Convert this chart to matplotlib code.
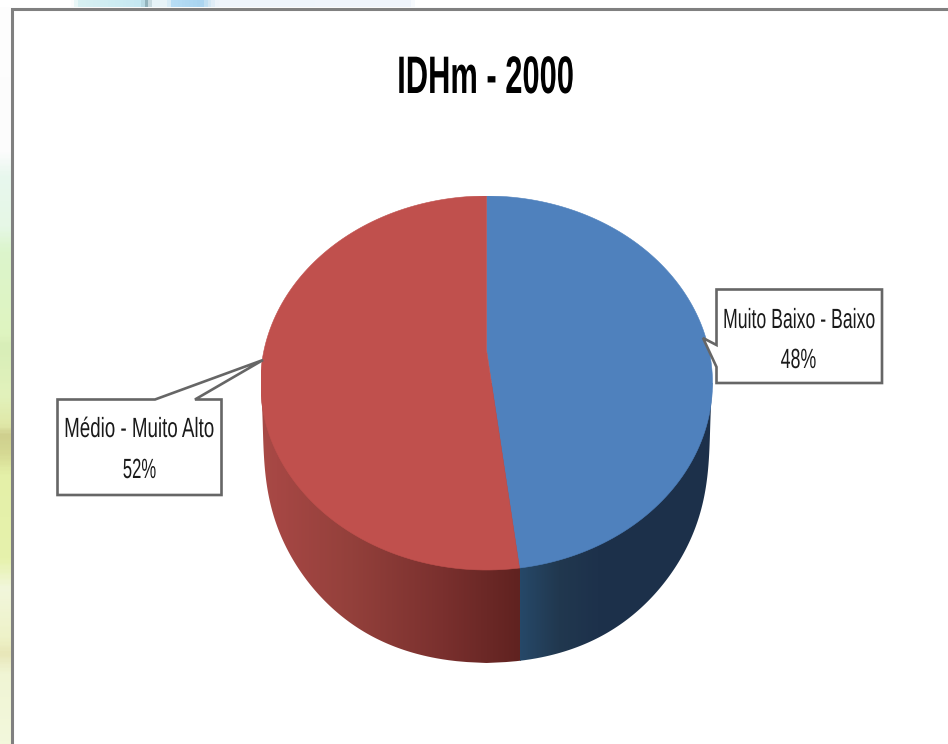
import numpy as np
import matplotlib
matplotlib.use("Agg")
import matplotlib.pyplot as plt
from matplotlib.patches import Polygon
from matplotlib.patheffects import AbstractPathEffect
from matplotlib.transforms import Affine2D
from matplotlib.colors import LinearSegmentedColormap

# Data
categories = ["Muito Baixo - Baixo", "Médio - Muito Alto"]
shares = [48, 52]
top_colors = ["#4f81bd", "#c0504d"]
title = "IDHm - 2000"

W, H = 948, 744
plt.rcParams["font.family"] = ["Liberation Sans", "DejaVu Sans"]
fig = plt.figure(figsize=(W / 100, H / 100), dpi=100, facecolor="white")


class Squeeze(AbstractPathEffect):
    """Draw a text horizontally condensed around its anchor (the original face is a narrow one)."""
    def __init__(self, sx, x_px):
        super().__init__()
        self.sx, self.x_px = sx, x_px

    def draw_path(self, renderer, gc, tpath, affine, rgbFace=None):
        t = affine + Affine2D().translate(-self.x_px, 0).scale(self.sx, 1).translate(self.x_px, 0)
        renderer.draw_path(gc, tpath, t, rgbFace)


# Background in pixel coordinates
bg = fig.add_axes([0, 0, 1, 1], zorder=0)
bg.set_xlim(0, W); bg.set_ylim(H, 0); bg.axis("off")
left_stops = [(0, "#fefefe"), (150, "#fcfcfc"), (175, "#e8f7ee"), (225, "#e6f8e6"), (250, "#dcf5cc"),
              (335, "#dff4c0"), (345, "#d8eeb8"), (395, "#e2f2bc"), (425, "#e0e8a8"), (435, "#cfcf8e"),
              (455, "#d6da94"), (475, "#e4f0a8"), (560, "#e6f2ac"), (590, "#f2f7dc"), (640, "#eef2c8"),
              (655, "#e8e6b8"), (675, "#f0f5d4"), (744, "#f3f8dc")]
ys = np.array([s[0] for s in left_stops]) / H
cm_left = LinearSegmentedColormap.from_list("left", [(y, s[1]) for y, s in zip(ys, left_stops)])
bg.imshow(np.linspace(0, 1, 400)[:, None], extent=(0, 11, H, 0), cmap=cm_left, aspect="auto", vmin=0, vmax=1)
top_stops = [(0, "#ffffff"), (70, "#ffffff"), (78, "#d8f1f2"), (140, "#c5e8f2"), (146, "#88a8b0"), (150, "#e6f3f8"),
             (166, "#e8f3f8"), (170, "#b8def6"), (200, "#a8d4f0"), (207, "#d0e6f4"), (216, "#eef4fb"),
             (410, "#f0f5fb"), (415, "#ffffff"), (948, "#ffffff")]
xs = np.array([s[0] for s in top_stops]) / W
cm_top = LinearSegmentedColormap.from_list("top", [(x, s[1]) for x, s in zip(xs, top_stops)])
bg.imshow(np.linspace(0, 1, 948)[None, :], extent=(0, W, 7, 0), cmap=cm_top, aspect="auto", vmin=0, vmax=1)
bg.set_xlim(0, W); bg.set_ylim(H, 0)
bg.plot([W, 12, 12], [8.5, 8.5, H], color="#808080", lw=2.2, solid_joinstyle="miter")

# Pie axes: unit radius maps to the ellipse on the page
cx, cy, rx, ry, depth = 486.5, 383.0, 226.0, 187.0, 280.0 - 187.0
d = depth / ry
ax = fig.add_axes([(cx - rx) / W, 1 - (cy + ry + depth) / H, 2 * rx / W, (2 * ry + depth) / H], zorder=1)

wedges, _ = ax.pie(shares, colors=top_colors, startangle=90, counterclock=False, radius=1, center=(0, 0),
                   frame=False, wedgeprops=dict(linewidth=0))

# Perspective of the 3-D view: the hub sits above the ellipse centre, the rim angles shift a little
apex_y = (cy - 350.0) / ry
spread = np.deg2rad(9.6)


def warp(v):
    r = np.hypot(v[:, 0], v[:, 1])
    psi = np.pi / 2 - np.arctan2(v[:, 1], v[:, 0])
    psi2 = psi - spread * np.sin(psi)
    return np.c_[r * np.cos(np.pi / 2 - psi2), r * np.sin(np.pi / 2 - psi2) + (1 - np.minimum(r, 1)) * apex_y]


for w in wedges:
    p = w.get_path()
    fc = w.get_facecolor()
    w.remove()
    flat = p.to_polygons(Affine2D().scale(2000), closed_only=False)[0] / 2000
    ax.add_patch(Polygon(warp(flat), closed=True, fc=fc, ec=fc, lw=0.4, zorder=3))

psi_end = 2 * np.pi * shares[0] / sum(shares)
split = np.sin(psi_end - spread * np.sin(psi_end))

# Side wall outline: half-width against page row of the 3-D body
wall_y = np.array([383, 420, 480, 510, 540, 570, 590, 610, 625, 640, 650, 658, 663], float)
wall_w = np.array([226, 224, 220, 215, 204, 186, 172, 153, 133, 107, 82, 50, 0], float)
u = (wall_y - 383) / 280
coef = np.polyfit(u, wall_w ** 2, 6)
uu = np.linspace(0, 1, 300)
ww = np.sqrt(np.clip(np.polyval(coef, uu), 0, None))
ww[0], ww[-1] = rx, 0
yy = -uu * 280 / ry
xx = ww / rx
outline = np.r_[np.c_[-xx, yy], np.c_[xx[::-1], yy[::-1]]]


def band(x0, x1, stops):
    cm = LinearSegmentedColormap.from_list("g", stops)
    poly = Polygon(outline, closed=True, transform=ax.transData, fc="none", ec="none")
    ax.add_patch(poly)
    im = ax.imshow(np.linspace(0, 1, 300)[None, :], extent=(x0, x1, -1 - d, 0.2), cmap=cm,
                   aspect="auto", vmin=0, vmax=1, zorder=1, interpolation="bilinear")
    im.set_clip_path(poly)


band(-1, split, [(0, "#a84a46"), (0.06, "#a64744"), (0.35, "#93403b"), (0.7, "#7a302e"), (1, "#602220")])
band(split, 1, [(0, "#264868"), (0.2, "#21384f"), (0.4, "#1d314b"), (1, "#1c304a")])

ax.set_aspect("auto")
ax.set_xlim(-1, 1); ax.set_ylim(-1 - d, 1)
ax.axis("off")

# Title and callouts
ov = fig.add_axes([0, 0, 1, 1], zorder=2)
ov.set_xlim(0, W); ov.set_ylim(H, 0); ov.axis("off"); ov.patch.set_alpha(0)


def label(x, y, s, size, sx, color, weight="normal"):
    t = ov.text(x, y, s, ha="center", va="baseline", fontsize=size, color=color, fontweight=weight)
    t.set_path_effects([Squeeze(sx, x)])


label(485.5, 93, title, 38, 0.585, "black", "bold")

grey = "#666666"
left_box = [(57.5, 399.5), (155, 399.5), (263, 360), (195, 399.5), (221.5, 399.5), (221.5, 495), (57.5, 495)]
right_box = [(716.5, 289.5), (882, 289.5), (882, 383), (716.5, 383), (716.5, 367), (703, 338), (716.5, 345)]
for pts in (left_box, right_box):
    ov.add_patch(Polygon(pts, closed=True, fc="white", ec=grey, lw=1.9, joinstyle="miter"))


def pct(i):
    return f"{round(100 * shares[i] / sum(shares))}%"


ink = "#1a1a1a"
label(799, 328, categories[0], 20, 0.636, ink)
label(798.5, 368, pct(0), 20, 0.64, ink)
label(139, 437, categories[1], 20, 0.675, ink)
label(139.5, 478, pct(1), 20, 0.6, ink)

fig.savefig("out.png", dpi=100, facecolor="white")
